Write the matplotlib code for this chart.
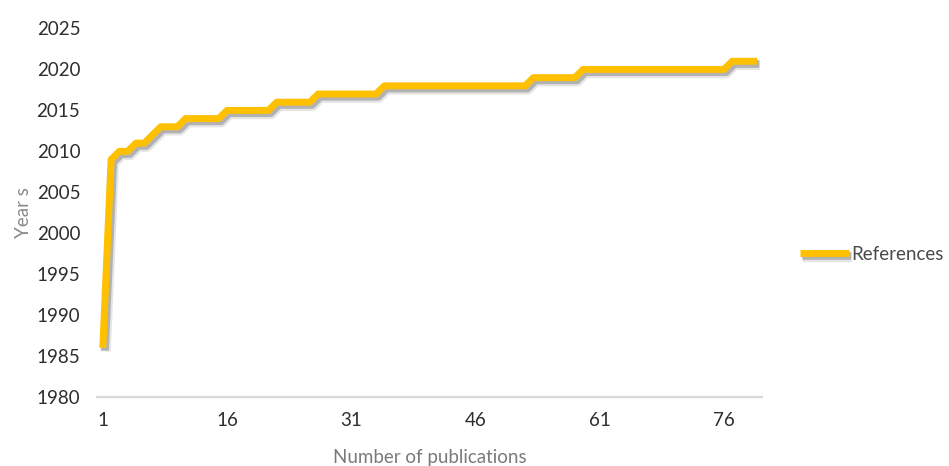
import matplotlib
matplotlib.use("Agg")
import matplotlib.pyplot as plt
import matplotlib.patheffects as pe

plt.rcParams['font.family'] = ['Lato', 'DejaVu Sans']

# Publication index and the year of each reference
publications = list(range(1, 81))
years = ([1986, 2009] + [2010] * 2 + [2011] * 2 + [2012] + [2013] * 3 +
         [2014] * 5 + [2015] * 6 + [2016] * 5 + [2017] * 8 + [2018] * 18 +
         [2019] * 6 + [2020] * 18 + [2021] * 4)
series_name = "References"
x_ticks = [1, 16, 31, 46, 61, 76]
y_ticks = list(range(1980, 2026, 5))

W, H = 949, 466
fig = plt.figure(figsize=(W / 100, H / 100), dpi=100)
ax = fig.add_axes([97 / W, 1 - 397 / H, (762 - 97) / W, (397 - 28.5) / H])

gold = "#FFC000"
shadow = [
    pe.SimpleLineShadow(offset=(2.0, -2.6), shadow_color="black", alpha=0.10, linewidth=7.5),
    pe.SimpleLineShadow(offset=(1.6, -2.0), shadow_color="black", alpha=0.22, linewidth=5.5),
    pe.Normal(),
]
ax.plot(publications, years, color=gold, linewidth=5.0,
        solid_joinstyle="round", solid_capstyle="butt",
        path_effects=shadow, label=series_name, zorder=3)

ax.set_xlim(0.3, 80.6)
ax.set_ylim(1980, 2025)
ax.set_xticks(x_ticks)
ax.set_yticks(y_ticks)

for side in ("top", "right", "left"):
    ax.spines[side].set_visible(False)
ax.spines["bottom"].set_color("#d9d9d9")
ax.spines["bottom"].set_linewidth(1.6)

ax.tick_params(axis="both", length=0, labelsize=13.5, labelcolor="#2e2e2e")
ax.tick_params(axis="y", pad=12)
ax.tick_params(axis="x", pad=11)

ax.set_xlabel("Number of publications", fontsize=13.5, color="#7a7a7a", labelpad=14)
ax.set_ylabel("Year s", fontsize=13.5, color="#8a8a8a", labelpad=3)

leg = ax.legend(loc="center left", bbox_to_anchor=(800 / W, 1 - 254 / H),
                bbox_transform=fig.transFigure, frameon=False, borderpad=0,
                borderaxespad=0, handlelength=2.6, handletextpad=0.15,
                fontsize=13.5)
for t in leg.get_texts():
    t.set_color("#4a4a4a")

fig.savefig("out.png", dpi=100)
